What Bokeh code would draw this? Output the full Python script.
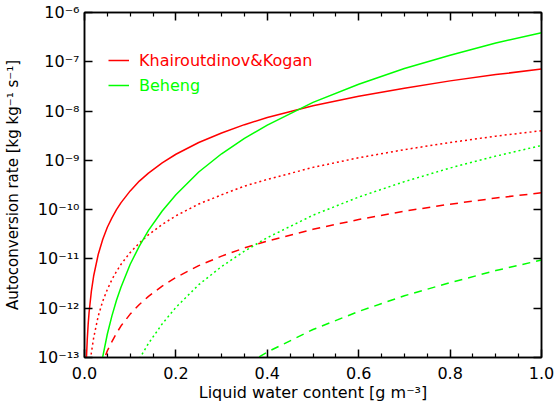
from bokeh.plotting import figure
from bokeh.models import (Range1d, FixedTicker, CustomJSTickFormatter, LinearAxis,
                          LogAxis, Legend, LegendItem)
from bokeh.embed import file_html
from bokeh.resources import INLINE

# ---- data ----
lwc = [0.002, 0.004, 0.006, 0.008, 0.01, 0.015, 0.02, 0.03, 0.04, 0.05, 0.06, 0.07,
       0.08, 0.1, 0.12, 0.14, 0.17, 0.2, 0.25, 0.3, 0.35, 0.4, 0.5, 0.6, 0.7, 0.8, 0.9, 1.0]

kk_solid = [1.5e-14, 8.5e-14, 2.3e-13, 4.7e-13, 8.2e-13, 2.2e-12, 4.5e-12, 1.23e-11, 2.5e-11,
            4.4e-11, 6.8e-11, 1.0e-10, 1.39e-10, 2.4e-10, 3.8e-10, 5.5e-10, 8.9e-10, 1.33e-9,
            2.3e-9, 3.6e-9, 5.3e-9, 7.4e-9, 1.28e-8, 2.0e-8, 2.9e-8, 4.1e-8, 5.5e-8, 7.1e-8]
kk_dotted = [8.6e-16, 4.8e-15, 1.3e-14, 2.6e-14, 4.6e-14, 1.24e-13, 2.5e-13, 6.9e-13, 1.4e-12,
             2.4e-12, 3.8e-12, 5.6e-12, 7.8e-12, 1.35e-11, 2.1e-11, 3.1e-11, 5.0e-11, 7.5e-11,
             1.3e-10, 2.0e-10, 3.0e-10, 4.1e-10, 7.2e-10, 1.13e-9, 1.65e-9, 2.3e-9, 3.1e-9, 4.0e-9]
kk_dashed = [4.8e-17, 2.7e-16, 7.3e-16, 1.5e-15, 2.6e-15, 7.0e-15, 1.42e-14, 3.9e-14, 7.9e-14,
             1.37e-13, 2.1e-13, 3.1e-13, 4.4e-13, 7.6e-13, 1.19e-12, 1.74e-12, 2.8e-12, 4.2e-12,
             7.3e-12, 1.14e-11, 1.67e-11, 2.3e-11, 4.0e-11, 6.3e-11, 9.3e-11, 1.29e-10, 1.72e-10, 2.2e-10]

bh_solid = [8e-20, 2e-18, 1.4e-17, 5.4e-17, 1.55e-16, 1.04e-15, 4.0e-15, 2.7e-14, 1.04e-13,
            3.0e-13, 7.0e-13, 1.45e-12, 2.7e-12, 7.8e-12, 1.82e-11, 3.8e-11, 9.4e-11, 2.0e-10,
            5.8e-10, 1.36e-9, 2.8e-9, 5.2e-9, 1.5e-8, 3.5e-8, 7.3e-8, 1.36e-7, 2.4e-7, 3.9e-7]
bh_dotted = [4e-22, 1e-20, 7e-20, 2.8e-19, 8e-19, 5.3e-18, 2.1e-17, 1.4e-16, 5.4e-16,
             1.5e-15, 3.6e-15, 7.4e-15, 1.4e-14, 4.0e-14, 9.4e-14, 1.93e-13, 4.8e-13, 1.04e-12,
             3.0e-12, 7.0e-12, 1.44e-11, 2.7e-11, 7.7e-11, 1.8e-10, 3.7e-10, 7.0e-10, 1.22e-9, 2.0e-9]
bh_dashed = [2e-24, 5e-23, 3.5e-22, 1.3e-21, 3.8e-21, 2.6e-20, 1e-19, 6.6e-19, 2.6e-18,
             7.3e-18, 1.7e-17, 3.6e-17, 6.7e-17, 1.9e-16, 4.5e-16, 9.2e-16, 2.3e-15, 5.0e-15,
             1.4e-14, 3.3e-14, 6.9e-14, 1.29e-13, 3.7e-13, 8.6e-13, 1.79e-12, 3.3e-12, 5.8e-12, 9.5e-12]

x_ticks = [0.0, 0.2, 0.4, 0.6, 0.8, 1.0]
x_tick_labels = ["0.0", "0.2", "0.4", "0.6", "0.8", "1.0"]
x_minor = [0.05, 0.1, 0.15, 0.25, 0.3, 0.35, 0.45, 0.5, 0.55, 0.65, 0.7, 0.75, 0.85, 0.9, 0.95]
y_ticks = [1e-13, 1e-12, 1e-11, 1e-10, 1e-9, 1e-8, 1e-7, 1e-6]
y_tick_labels = ["10\u207b\u00b9\u00b3", "10\u207b\u00b9\u00b2", "10\u207b\u00b9\u00b9",
                 "10\u207b\u00b9\u2070", "10\u207b\u2079", "10\u207b\u2078", "10\u207b\u2077",
                 "10\u207b\u2076"]

FONT = "DejaVu Sans"
RED = "#ff0000"
GREEN = "#00ff00"

p = figure(width=555, height=406, x_range=Range1d(0, 1), y_range=Range1d(1e-13, 1e-6),
           y_axis_type="log", output_backend="svg", toolbar_location=None,
           min_border_left=83, min_border_right=14, min_border_top=12, min_border_bottom=49)
p.xgrid.visible = False
p.ygrid.visible = False
p.background_fill_color = "white"
p.border_fill_color = "white"
p.outline_line_color = "black"
p.outline_line_width = 1.5

xfmt = CustomJSTickFormatter(args=dict(tvals=x_ticks, labels=x_tick_labels), code="""
const i = tvals.findIndex(t => Math.abs(t - tick) < 1e-9);
return i >= 0 ? labels[i] : '';
""")
yfmt = CustomJSTickFormatter(args=dict(tvals=y_ticks, labels=y_tick_labels), code="""
const i = tvals.findIndex(t => Math.abs(Math.log10(t) - Math.log10(tick)) < 1e-6);
return i >= 0 ? labels[i] : '';
""")
blank = CustomJSTickFormatter(code="return '';")

def style(ax, minor):
    ax.axis_line_color = "black"
    ax.axis_line_width = 1.5
    ax.major_tick_line_color = "black"
    ax.major_tick_line_width = 1.5
    ax.minor_tick_line_color = "black"
    ax.minor_tick_line_width = 1.2
    ax.major_tick_in = 8
    ax.major_tick_out = 0
    ax.minor_tick_in = 4 if minor else 0
    ax.minor_tick_out = 0
    ax.major_label_text_font = FONT
    ax.major_label_text_font_size = "16px"
    ax.major_label_text_color = "black"
    ax.axis_label_text_font = FONT
    ax.axis_label_text_font_size = "16px"
    ax.axis_label_text_font_style = "normal"
    ax.axis_label_text_color = "black"

xb = p.xaxis[0]
xb.ticker = FixedTicker(ticks=x_ticks, minor_ticks=x_minor)
xb.formatter = xfmt
xb.axis_label = "Liquid water content [g m\u207b\u00b3]"
style(xb, True)
xb.major_label_standoff = 9
xb.axis_label_standoff = 1

yl = p.yaxis[0]
yl.ticker = FixedTicker(ticks=y_ticks, minor_ticks=[])
yl.formatter = yfmt
yl.axis_label = "Autoconversion rate [kg kg\u207b\u00b9 s\u207b\u00b9]"
style(yl, False)
yl.axis_label_text_font_size = "15px"
yl.major_label_standoff = 5
yl.axis_label_standoff = 13

xt = LinearAxis(ticker=FixedTicker(ticks=x_ticks, minor_ticks=x_minor), formatter=blank)
style(xt, True)
xt.major_label_standoff = 0
p.add_layout(xt, "above")

yr = LogAxis(ticker=FixedTicker(ticks=y_ticks, minor_ticks=[]), formatter=blank)
style(yr, False)
yr.major_label_standoff = 0
p.add_layout(yr, "right")

W = 1.5
r1 = p.line(lwc, kk_solid, line_color=RED, line_width=W)
p.line(lwc, kk_dotted, line_color=RED, line_width=W, line_dash="2 3")
p.line(lwc, kk_dashed, line_color=RED, line_width=W, line_dash="8 6")
r2 = p.line(lwc, bh_solid, line_color=GREEN, line_width=W)
p.line(lwc, bh_dotted, line_color=GREEN, line_width=W, line_dash="2 3")
p.line(lwc, bh_dashed, line_color=GREEN, line_width=W, line_dash="8 6")

def make_legend(label, r, color, loc):
    lg = Legend(items=[LegendItem(label=label, renderers=[r])], location=loc,
                padding=0, margin=0, spacing=0, glyph_width=21, glyph_height=20,
                label_height=20, label_standoff=10,
                label_text_font=FONT, label_text_font_size="16px",
                label_text_color=color, background_fill_alpha=0, border_line_alpha=0)
    p.add_layout(lg)

make_legend("Khairoutdinov&Kogan", r1, RED, (24, 287))
make_legend("Beheng", r2, GREEN, (24, 262))

open("out.html", "w").write(file_html(p, INLINE))
